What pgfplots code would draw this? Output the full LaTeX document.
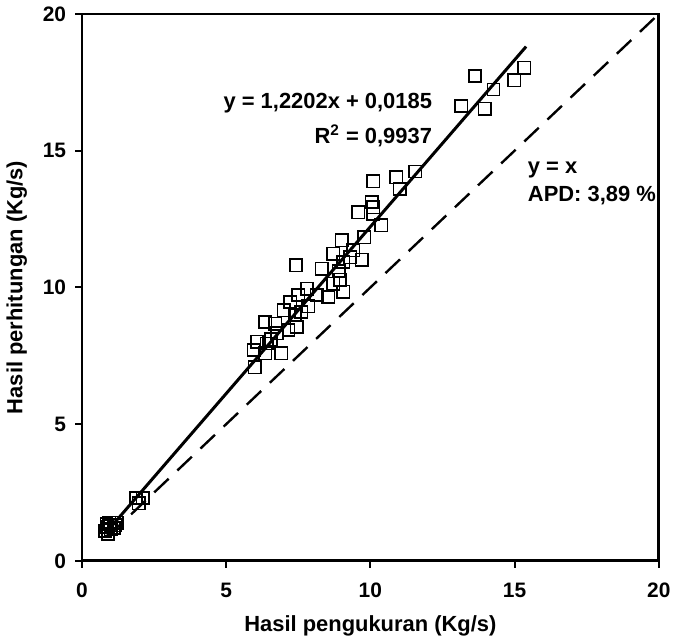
\documentclass[border=0pt]{standalone}
\usepackage{fontspec}
\setmainfont{Liberation Sans}
\usepackage{pgfplots}
\pgfplotsset{compat=1.18}

\begin{document}
\begin{tikzpicture}
\begin{axis}[
  scale only axis,
  width=289.5bp, height=274.5bp,
  xmin=0, xmax=20, ymin=0, ymax=20,
  xtick={0,5,10,15,20}, ytick={0,5,10,15,20},
  tick align=outside,
  xtick pos=left, ytick pos=left,
  major tick length=3.5bp,
  axis line style={line width=1.4bp},
  every tick/.style={black,line width=1bp},
  /pgf/number format/assume math mode=true,
  tick label style={font=\fontsize{10.5bp}{12bp}\selectfont\bfseries},
  label style={font=\fontsize{11bp}{13bp}\selectfont\bfseries},
  xticklabel style={yshift=-4bp},
  yticklabel style={xshift=-1bp},
  xlabel={Hasil pengukuran (Kg/s)},
  ylabel={Hasil perhitungan (Kg/s)},
  xlabel style={yshift=-2bp},
  ylabel style={yshift=1bp},
  clip=false,
]
% measured vs calculated
\addplot[only marks, mark=square, mark size=3.1bp, mark options={line width=0.8bp, black}] coordinates {
(0.8,1.1) (0.85,1.35) (0.9,1.0) (0.95,1.4) (1.0,1.15) (0.88,1.25) (1.2,1.4) (1.15,1.3) (1.0,1.3) (1.1,1.2)
(1.87,2.3) (2.1,2.3) (1.97,2.1)
(5.99,7.08) (5.95,7.71) (6.07,8.01) (6.41,7.95) (6.36,7.59) (6.91,7.59) (6.36,8.74) (6.7,8.68)
(6.76,8.32) (7.16,8.44) (7.45,8.56) (6.99,9.17) (7.39,8.99) (7.22,9.47) (7.5,9.72) (7.85,9.31)
(7.8,9.96) (8.14,9.72) (8.54,9.65) (9.06,9.84) (8.72,10.14) (8.95,10.28) (8.31,10.68) (9.06,10.93)
(9.7,11.01) (9.41,11.36) (8.72,11.23) (9.0,11.72) (9.79,11.84) (7.42,10.81) (10.38,12.27)
(10.1,12.69) (10.1,12.93) (9.58,12.75) (10.04,13.11) (10.1,13.88) (10.9,14.03) (11.02,13.6)
(11.56,14.24) (13.15,16.64) (13.96,16.54) (14.27,17.24) (14.99,17.57) (15.34,18.03) (13.63,17.73)
(6.55,8.1) (7.6,9.1) (8.9,10.6) (9.3,11.1)
};
% regression line
\addplot[black, line width=1.5bp] coordinates {(0.8,0.9947) (15.4,18.809)};
% y = x
\addplot[black, line width=1.2bp, dash pattern=on 10bp off 6bp] coordinates {(0.9,0.9) (20,20)};

\node[anchor=east, inner sep=0pt, font=\fontsize{11bp}{13bp}\selectfont\bfseries] at (axis cs:12.15,16.75) {y = 1,2202x + 0,0185};
\node[anchor=east, inner sep=0pt, font=\fontsize{11bp}{13bp}\selectfont\bfseries] at (axis cs:12.15,15.55) {R$^{\mathbf{2}}$ = 0,9937};
\node[anchor=west, inner sep=0pt, font=\fontsize{11bp}{13bp}\selectfont\bfseries] at (axis cs:15.45,14.3) {y = x};
\node[anchor=west, inner sep=0pt, font=\fontsize{11bp}{13bp}\selectfont\bfseries] at (axis cs:15.45,13.35) {APD: 3,89 \%};
\end{axis}
\end{tikzpicture}
\end{document}
